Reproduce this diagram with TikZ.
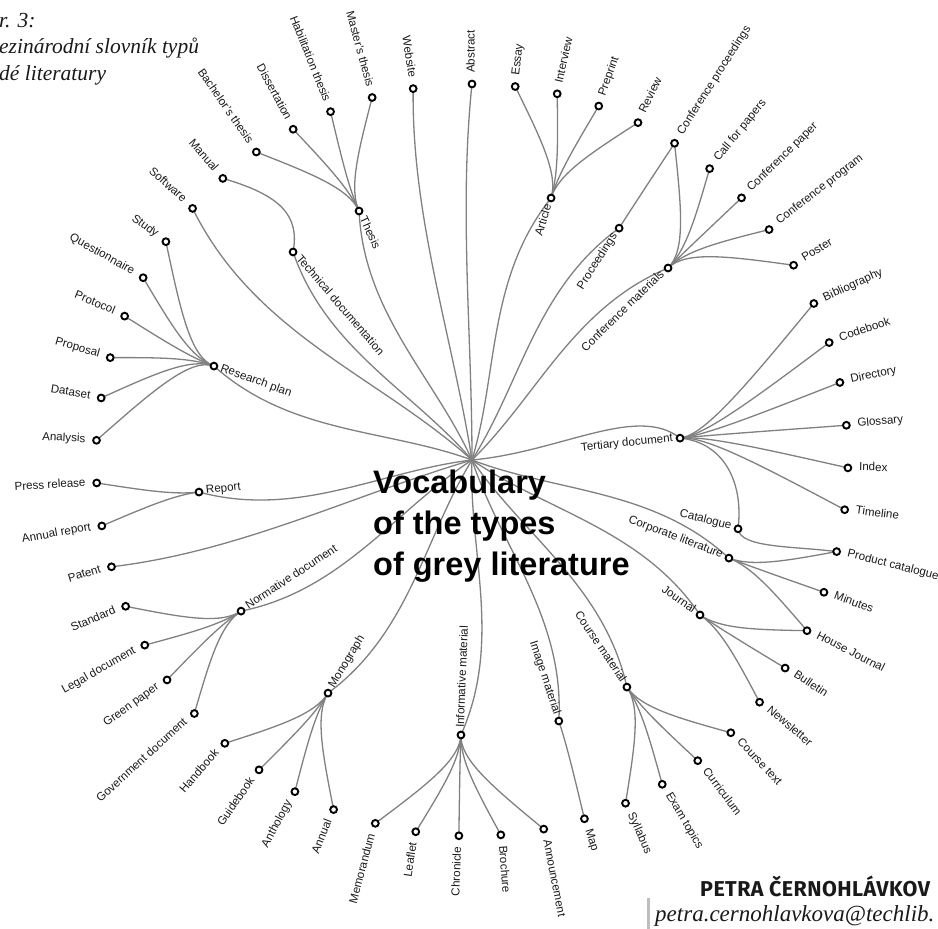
\documentclass[tikz,border=0pt]{standalone}
\usepackage{fontspec}
\setmainfont{Liberation Sans}
\newfontfamily\capserif{Liberation Serif}
\newfontfamily\firasans[LetterSpace=2]{Fira Sans}
\usetikzlibrary{calc}
\pgfdeclarelayer{bg}
\pgfsetlayers{bg,main}
\definecolor{linkgrey}{RGB}{128,128,128}
\definecolor{labelink}{RGB}{25,25,25}
\definecolor{bargrey}{RGB}{190,190,190}
\tikzset{
  dot/.style={circle, draw=black, line width=1.9pt, fill=white, minimum size=6.8pt, inner sep=0pt},
  lbl/.style={inner sep=0pt, text=labelink, font=\fontsize{11.6}{13}\selectfont},
  link/.style={draw=linkgrey, line width=1.3pt},
}
% leaf, right half: label outward, reading outward
\newcommand\gLeafR[4]{\node[dot] (#1) at (#2:#3) {};\node[lbl, rotate=#2, anchor=mid west] (#1-t) at (#2:{#3+11}) {#4};}
% leaf, left half
\newcommand\gLeafL[4]{\node[dot] (#1) at (#2:#3) {};\node[lbl, rotate=#2+180, anchor=mid east] (#1-t) at (#2:{#3+11}) {#4};}
% inner node, right half: label inward
\newcommand\gIntR[4]{\node[dot] (#1) at (#2:#3) {};\node[lbl, rotate=#2, anchor=mid east] (#1-t) at (#2:{#3-7}) {#4};}
% inner node, left half
\newcommand\gIntL[4]{\node[dot] (#1) at (#2:#3) {};\node[lbl, rotate=#2+180, anchor=mid west] (#1-t) at (#2:{#3-7}) {#4};}
% link from the centre
\newcommand\hublink[4]{\draw[link] (hub) .. controls (#2:{#3/3}) and ({#2+#4}:{2*#3/3}) .. (#1.center);}
% link from parent to child
\newcommand\clink[2]{%
  \coordinate (q1) at ($(#1.center)!-25pt!(hub)$);
  \coordinate (q2) at ($(q1)!0.4!(#2.center)$);
  \draw[link] (#1.center) .. controls (q1) and (q2) .. (#2.center);}

\begin{document}
\begin{tikzpicture}[x=1pt,y=1pt]
\useasboundingbox (-472,-469) rectangle (466,460);
\coordinate (hub) at (0,0);

% ---- inner nodes
\gIntL{thesis}{114.4}{273.4}{Thesis}
\gIntL{techdoc}{130.7}{274.4}{Technical documentation}
\gIntL{research}{160}{274.6}{Research plan}
\gIntL{report}{186.7}{274.9}{Report}
\gIntL{normative}{213.2}{276}{Normative document}
\gIntL{monograph}{238.3}{274}{Monograph}
\gIntL{informative}{267.7}{275.2}{Informative material}
\gIntR{image}{288.4}{275.1}{Image material}
\gIntR{course}{304.3}{274.9}{Course material}
\gIntR{journal}{325.8}{275.7}{Journal}
\gIntR{corporate}{339.1}{275}{Corporate literature}
\gIntR{catalogue}{345.5}{274.8}{Catalogue}
\gIntR{tertiary}{6.0}{209.2}{Tertiary document}
\gIntR{confmat}{44.4}{274.4}{Conference materials}
\gIntR{proceedings}{57.6}{274.6}{Proceedings}
\gIntR{article}{73.2}{273.7}{Article}

% ---- leaves
\gLeafR{abstract}{90}{376}{Abstract}
\gLeafL{website}{99.0}{376}{Website}
\gLeafL{masters}{105.4}{376}{Master’s thesis}
\gLeafL{habil}{112.1}{376}{Habilitation thesis}
\gLeafL{dissert}{118.4}{376}{Dissertation}
\gLeafL{bachelor}{125.0}{376}{Bachelor’s thesis}
\gLeafL{manual}{131.5}{376}{Manual}
\gLeafL{software}{138.0}{376}{Software}
\gLeafL{study}{144.5}{376}{Study}
\gLeafL{questionnaire}{151.0}{376}{Questionnaire}
\gLeafL{protocol}{157.5}{376}{Protocol}
\gLeafL{proposal}{164.2}{376}{Proposal}
\gLeafL{dataset}{170.5}{376}{Dataset}
\gLeafL{analysis}{177.0}{376}{Analysis}
\gLeafL{press}{183.5}{376}{Press release}
\gLeafL{annualreport}{190.1}{376}{Annual report}
\gLeafL{patent}{196.5}{376}{Patent}
\gLeafL{standard}{202.9}{376}{Standard}
\gLeafL{legal}{209.5}{376}{Legal document}
\gLeafL{green}{215.8}{376}{Green paper}
\gLeafL{government}{222.4}{376}{Government document}
\gLeafL{handbook}{228.9}{376}{Handbook}
\gLeafL{guidebook}{235.5}{376}{Guidebook}
\gLeafL{anthology}{241.9}{376}{Anthology}
\gLeafL{annual}{248.4}{376}{Annual}
\gLeafL{memorandum}{255.1}{376}{Memorandum}
\gLeafL{leaflet}{261.4}{376}{Leaflet}
\gLeafL{chronicle}{268.0}{376}{Chronicle}
\gLeafR{brochure}{274.4}{376}{Brochure}
\gLeafR{announcement}{281.0}{376}{Announcement}
\gLeafR{map}{287.4}{376}{Map}
\gLeafR{syllabus}{294.1}{376}{Syllabus}
\gLeafR{exam}{300.4}{376}{Exam topics}
\gLeafR{curriculum}{306.9}{376}{Curriculum}
\gLeafR{coursetext}{313.5}{376}{Course text}
\gLeafR{newsletter}{319.9}{376}{Newsletter}
\gLeafR{bulletin}{326.4}{376}{Bulletin}
\gLeafR{housejournal}{333.0}{376}{House Journal}
\gLeafR{minutes}{339.4}{376}{Minutes}
\gLeafR{product}{345.9}{376}{Product catalogue}
\gLeafR{timeline}{352.4}{376}{Timeline}
\gLeafR{index}{358.8}{376}{Index}
\gLeafR{glossary}{5.3}{376}{Glossary}
\gLeafR{directory}{11.9}{376}{Directory}
\gLeafR{codebook}{18.2}{376}{Codebook}
\gLeafR{bibliography}{24.6}{376}{Bibliography}
\gLeafR{poster}{31.2}{376}{Poster}
\gLeafR{confprogram}{37.8}{376}{Conference program}
\gLeafR{confpaper}{44.2}{376}{Conference paper}
\gLeafR{callpapers}{50.8}{376}{Call for papers}
\gLeafR{confproc}{57.4}{376}{Conference proceedings}
\gLeafR{review}{63.8}{376}{Review}
\gLeafR{preprint}{70.3}{376}{Preprint}
\gLeafR{interview}{76.9}{376}{Interview}
\gLeafR{essay}{83.4}{376}{Essay}

% ---- title and texts
\node[anchor=north west, inner sep=0pt, align=left, font=\bfseries\fontsize{32.5}{41}\selectfont] (title) at (-99,-9.7) {Vocabulary\\of the types\\of grey literature};
\node[anchor=base west, inner sep=0pt, text=labelink, font=\capserif\itshape\fontsize{21.5}{26}\selectfont] (cap1) at (-473,432.3) {r. 3:};
\node[anchor=base west, inner sep=0pt, text=labelink, font=\capserif\itshape\fontsize{21.5}{26}\selectfont] (cap2) at (-473,406) {ezinárodní slovník typů};
\node[anchor=base west, inner sep=0pt, text=labelink, font=\capserif\itshape\fontsize{21.5}{26}\selectfont] (cap3) at (-473,379.3) {dé literatury};
\node[anchor=base west, inner sep=0pt, text=labelink, font=\firasans\bfseries\fontsize{21.5}{24}\selectfont] (author) at (228,-436.7) {PETRA ČERNOHLÁVKOV};
\node[anchor=base west, inner sep=0pt, text=labelink, font=\capserif\itshape\fontsize{23}{26}\selectfont] (email) at (183,-461.7) {petra.cernohlavkova@techlib.};
\fill[bargrey] (175,-438) rectangle (178,-469);

\begin{pgfonlayer}{bg}
% ---- links from the centre
\hublink{abstract}{90}{376}{3}
\hublink{website}{99}{376}{5}
\hublink{thesis}{114.4}{273.4}{12}
\hublink{techdoc}{130.7}{274.4}{12}
\hublink{software}{138}{376}{12}
\hublink{research}{160}{274.6}{12}
\hublink{report}{186.7}{274.9}{12}
\hublink{patent}{196.5}{376}{5}
\hublink{normative}{213.2}{276}{12}
\hublink{monograph}{238.3}{274}{12}
\hublink{informative}{267.7}{275.2}{12}
\hublink{image}{288.4}{275.1}{12}
\hublink{course}{304.3}{274.9}{12}
\hublink{journal}{325.8}{275.7}{12}
\hublink{corporate}{339.1}{275}{12}
\draw[link] (hub) .. controls (88,8) and (165,56) .. (tertiary.center);
\hublink{confmat}{44.4}{274.4}{12}
\hublink{proceedings}{57.6}{274.6}{12}
\hublink{article}{73.2}{273.7}{12}
% ---- parent to child
\clink{thesis}{bachelor}\clink{thesis}{dissert}\clink{thesis}{habil}\clink{thesis}{masters}
\draw[link] (techdoc.center) .. controls (-172,245) and (-192,265) .. (manual.center);
\clink{research}{study}\clink{research}{questionnaire}\clink{research}{protocol}
\clink{research}{proposal}\clink{research}{dataset}\clink{research}{analysis}
\clink{report}{press}\clink{report}{annualreport}
\clink{normative}{standard}\clink{normative}{legal}\clink{normative}{green}\clink{normative}{government}
\clink{monograph}{handbook}\clink{monograph}{guidebook}\clink{monograph}{anthology}\clink{monograph}{annual}
\clink{informative}{memorandum}\clink{informative}{leaflet}\clink{informative}{chronicle}
\clink{informative}{brochure}\clink{informative}{announcement}
\clink{image}{map}
\clink{course}{syllabus}\clink{course}{exam}\clink{course}{curriculum}\clink{course}{coursetext}
\clink{journal}{housejournal}\clink{journal}{bulletin}\clink{journal}{newsletter}
\clink{corporate}{product}\clink{corporate}{minutes}\clink{corporate}{housejournal}
\draw[link] (catalogue.center) .. controls (268,-88) and (320,-86) .. (product.center);
\clink{tertiary}{bibliography}\clink{tertiary}{codebook}\clink{tertiary}{directory}
\clink{tertiary}{glossary}\clink{tertiary}{index}\clink{tertiary}{timeline}
\draw[link] (tertiary.center) .. controls (250,18) and (272,-20) .. (catalogue.center);
\clink{confmat}{confproc}\clink{confmat}{callpapers}\clink{confmat}{confpaper}
\clink{confmat}{confprogram}\clink{confmat}{poster}
\clink{proceedings}{confproc}
\clink{article}{essay}\clink{article}{interview}\clink{article}{preprint}\clink{article}{review}
\end{pgfonlayer}
\end{tikzpicture}
\end{document}
